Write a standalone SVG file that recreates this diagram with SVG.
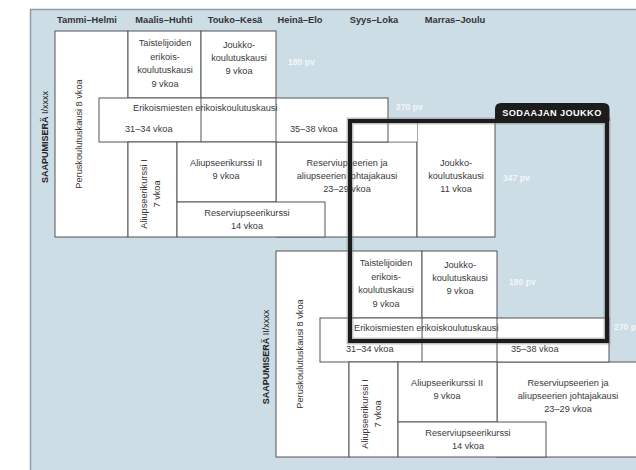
<svg xmlns="http://www.w3.org/2000/svg" width="636" height="470" viewBox="0 0 636 470">
<style>
.cell{fill:#ffffff;stroke:#555;stroke-width:1}
.ln{stroke:#555;stroke-width:1;fill:none}
.t{font-family:"Liberation Sans",Arial,sans-serif;font-size:9.2px;fill:#3a3a3a}
.m{text-anchor:middle}
.h{font-family:"Liberation Sans",Arial,sans-serif;font-size:9.3px;font-weight:bold;fill:#333;text-anchor:middle}
.pv{font-family:"Liberation Sans",Arial,sans-serif;font-size:8.6px;font-weight:bold;fill:#ffffff;opacity:0.75}
.sa{font-family:"Liberation Sans",Arial,sans-serif;font-size:9px;fill:#222;text-anchor:middle}
</style>
<rect x="0" y="0" width="636" height="470" fill="#ffffff"/>
<rect id="panel" x="30.5" y="9.5" width="607" height="462" fill="#cddde6" stroke="#8e9ea6" stroke-width="1.5"/>
<g id="header">
<text class="h" x="87" y="23">Tammi–Helmi</text>
<text class="h" x="164" y="23">Maalis–Huhti</text>
<text class="h" x="235" y="23">Touko–Kesä</text>
<text class="h" x="300" y="23">Heinä–Elo</text>
<text class="h" x="374" y="23">Syys–Loka</text>
<text class="h" x="455" y="23">Marras–Joulu</text>
</g>
<g id="connectors"/>
<g id="block1">
<text class="sa" transform="translate(47.5,137) rotate(-90)"><tspan font-weight="bold">SAAPUMISERÄ</tspan> I/xxxx</text>
<g id="b1-perus"><rect class="cell" x="55" y="31" width="73" height="206"/><text class="t m" transform="translate(82,134) rotate(-90)">Peruskoulutuskausi 8 vkoa</text></g>
<g id="b1-taist"><rect class="cell" x="128" y="31" width="73" height="67"/><text class="t m"><tspan x="165" y="46">Taistelijoiden</tspan><tspan x="165" y="59.5">erikois-</tspan><tspan x="165" y="73">koulutuskausi</tspan><tspan x="165" y="86.5">9 vkoa</tspan></text></g>
<g id="b1-joukko"><rect class="cell" x="201" y="31" width="75" height="67"/><text class="t m"><tspan x="239" y="48">Joukko-</tspan><tspan x="239" y="61">koulutuskausi</tspan><tspan x="239" y="74">9 vkoa</tspan></text></g>
<g id="b1-resjoht"><rect class="cell" x="276" y="142" width="141" height="95"/><text class="t m"><tspan x="347" y="166">Reserviupseerien ja</tspan><tspan x="347" y="179">aliupseerien johtajakausi</tspan><tspan x="347" y="192">23–29 vkoa</tspan></text></g>
<g id="b1-joukko2"><rect class="cell" x="417" y="122" width="78" height="115"/><rect x="388" y="122" width="29" height="19.5" fill="#fff"/><text class="t m"><tspan x="456" y="166">Joukko-</tspan><tspan x="456" y="179">koulutuskausi</tspan><tspan x="456" y="192">11 vkoa</tspan></text></g>
<g id="b1-erikois"><rect class="cell" x="99" y="98" width="289" height="44"/><line class="ln" x1="201" y1="98" x2="201" y2="142"/><line class="ln" x1="276" y1="98" x2="276" y2="142"/><text class="t" x="133" y="111">Erikoismiesten erikoiskoulutuskausi</text><text class="t" x="125" y="132">31–34 vkoa</text><text class="t" x="290" y="132">35–38 vkoa</text></g>
<g id="b1-aliup1"><rect class="cell" x="128" y="142" width="49" height="95"/><text class="t m" transform="translate(149.5,194) rotate(-90)"><tspan x="0" y="-3">Aliupseerikurssi I</tspan><tspan x="0" y="10">7 vkoa</tspan></text></g>
<g id="b1-aliup2"><rect class="cell" x="177" y="142" width="99" height="60"/><text class="t m"><tspan x="226" y="166">Aliupseerikurssi II</tspan><tspan x="226" y="179">9 vkoa</tspan></text></g>
<g id="b1-resup"><rect class="cell" x="177" y="202" width="148" height="35"/><text class="t m"><tspan x="247" y="216">Reserviupseerikurssi</tspan><tspan x="247" y="229">14 vkoa</tspan></text></g>
<text class="pv" x="288" y="65">180 pv</text>
<text class="pv" x="396" y="110">270 pv</text>
<text class="pv" x="503" y="181">347 pv</text>
</g>
<g id="block2" transform="translate(221,220)">
<text class="sa" transform="translate(47.5,137) rotate(-90)"><tspan font-weight="bold">SAAPUMISERÄ</tspan> II/xxxx</text>
<g id="b2-perus"><rect class="cell" x="55" y="31" width="73" height="206"/><text class="t m" transform="translate(82,134) rotate(-90)">Peruskoulutuskausi 8 vkoa</text></g>
<g id="b2-taist"><rect class="cell" x="128" y="31" width="73" height="67"/><text class="t m"><tspan x="165" y="46">Taistelijoiden</tspan><tspan x="165" y="59.5">erikois-</tspan><tspan x="165" y="73">koulutuskausi</tspan><tspan x="165" y="86.5">9 vkoa</tspan></text></g>
<g id="b2-joukko"><rect class="cell" x="201" y="31" width="75" height="67"/><text class="t m"><tspan x="239" y="48">Joukko-</tspan><tspan x="239" y="61">koulutuskausi</tspan><tspan x="239" y="74">9 vkoa</tspan></text></g>
<g id="b2-resjoht"><rect class="cell" x="276" y="142" width="141" height="95"/><text class="t m"><tspan x="347" y="166">Reserviupseerien ja</tspan><tspan x="347" y="179">aliupseerien johtajakausi</tspan><tspan x="347" y="192">23–29 vkoa</tspan></text></g>
<g id="b2-erikois"><rect class="cell" x="99" y="98" width="289" height="44"/><line class="ln" x1="201" y1="98" x2="201" y2="142"/><line class="ln" x1="276" y1="98" x2="276" y2="142"/><text class="t" x="133" y="111">Erikoismiesten erikoiskoulutuskausi</text><text class="t" x="125" y="132">31–34 vkoa</text><text class="t" x="290" y="132">35–38 vkoa</text></g>
<g id="b2-aliup1"><rect class="cell" x="128" y="142" width="49" height="95"/><text class="t m" transform="translate(149.5,194) rotate(-90)"><tspan x="0" y="-3">Aliupseerikurssi I</tspan><tspan x="0" y="10">7 vkoa</tspan></text></g>
<g id="b2-aliup2"><rect class="cell" x="177" y="142" width="99" height="60"/><text class="t m"><tspan x="226" y="166">Aliupseerikurssi II</tspan><tspan x="226" y="179">9 vkoa</tspan></text></g>
<g id="b2-resup"><rect class="cell" x="177" y="202" width="148" height="35"/><text class="t m"><tspan x="247" y="216">Reserviupseerikurssi</tspan><tspan x="247" y="229">14 vkoa</tspan></text></g>
<text class="pv" x="288" y="65">180 pv</text>
<text class="pv" x="393" y="110">270 pv</text>
</g>
<g id="sodanajan">
<rect x="350" y="121" width="257" height="220" fill="none" stroke="#777" stroke-width="7" stroke-opacity="0.45"/>
<rect x="350" y="121" width="257" height="220" fill="none" stroke="#1c1c1c" stroke-width="4"/>
<path d="M495,121 V109 Q495,103 501,103 H603.5 Q609.5,103 609.5,109 V121 Z" fill="#1c1c1c"/>
<text x="552" y="115.5" text-anchor="middle" font-family="'Liberation Sans',Arial,sans-serif" font-size="9.2px" font-weight="bold" fill="#ffffff" letter-spacing="0.4">SODAAJAN JOUKKO</text>
</g>
</svg>
